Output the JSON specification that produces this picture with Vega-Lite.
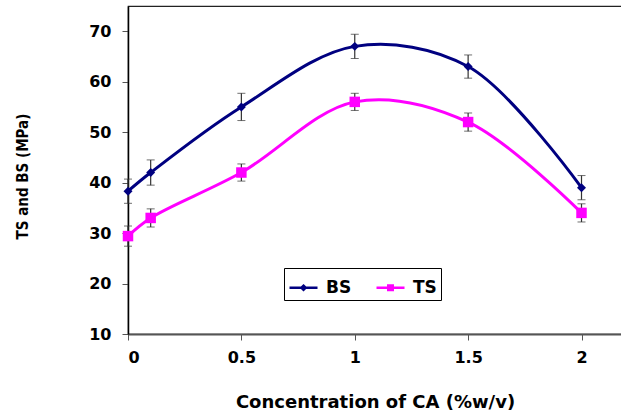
{
  "$schema": "https://vega.github.io/schema/vega-lite/v6.json",
  "autosize": {"type": "none"},
  "padding": {"left": 128, "top": 6, "right": 0, "bottom": 78},
  "width": 494,
  "height": 328,
  "background": "white",
  "config": {
    "view": {"stroke": "#222222", "strokeWidth": 1.2},
    "font": "DejaVu Sans"
  },
  "data": {
    "values": [
      {"conc": 0, "value": 38.3, "err": 2.4, "series": "BS"},
      {"conc": 0.1, "value": 42, "err": 2.5, "series": "BS"},
      {"conc": 0.5, "value": 55, "err": 2.7, "series": "BS"},
      {"conc": 1, "value": 67, "err": 2.4, "series": "BS"},
      {"conc": 1.5, "value": 63, "err": 2.3, "series": "BS"},
      {"conc": 2, "value": 39, "err": 2.4, "series": "BS"},
      {"conc": 0, "value": 29.4, "err": 2.0, "series": "TS"},
      {"conc": 0.1, "value": 33, "err": 1.8, "series": "TS"},
      {"conc": 0.5, "value": 42, "err": 1.7, "series": "TS"},
      {"conc": 1, "value": 56, "err": 1.7, "series": "TS"},
      {"conc": 1.5, "value": 52, "err": 1.8, "series": "TS"},
      {"conc": 2, "value": 34, "err": 1.8, "series": "TS"}
    ]
  },
  "encoding": {
    "x": {
      "field": "conc", "type": "quantitative",
      "scale": {"domain": [0, 2.1786], "nice": false, "zero": false},
      "axis": {
        "values": [0, 0.5, 1, 1.5, 2],
        "format": "~g",
        "title": "Concentration of CA (%w/v)",
        "titleFont": "DejaVu Sans", "titleFontSize": 18, "titleFontWeight": "bold",
        "titleColor": "black", "titleBaseline": "alphabetic", "titleY": 73,
        "labelFont": "DejaVu Sans", "labelFontSize": 16, "labelFontWeight": "bold",
        "labelColor": "black", "labelPadding": 9,
        "tickSize": 6, "tickColor": "#555555", "domainColor": "#555555", "domainWidth": 2,
        "grid": false
      }
    },
    "y": {
      "field": "value", "type": "quantitative",
      "scale": {"domain": [10, 75], "nice": false, "zero": false},
      "axis": {
        "values": [10, 20, 30, 40, 50, 60, 70],
        "title": "TS and BS (MPa)",
        "titleFont": "DejaVu Sans Condensed", "titleFontSize": 15, "titleFontWeight": "bold",
        "titleColor": "black", "titleX": -106, "titleY": 170, "titleBaseline": "middle",
        "labelFont": "DejaVu Sans", "labelFontSize": 16, "labelFontWeight": "bold",
        "labelColor": "black", "labelPadding": 11,
        "tickSize": 6, "tickColor": "#555555", "domainColor": "black", "domainWidth": 1.5,
        "grid": false
      }
    }
  },
  "layer": [
    {
      "mark": {"type": "errorbar", "ticks": {"size": 8, "color": "#333333", "strokeWidth": 1.2}, "rule": {"color": "#333333", "strokeWidth": 1.2}},
      "encoding": {
        "y": {"field": "value", "type": "quantitative"},
        "yError": {"field": "err"},
        "detail": {"field": "series"}
      }
    },
    {
      "mark": {"type": "line", "interpolate": "catmull-rom", "strokeWidth": 3},
      "encoding": {
        "color": {
          "field": "series", "type": "nominal",
          "scale": {"domain": ["BS", "TS"], "range": ["#000080", "#ff00ff"]},
          "legend": {
            "title": null, "orient": "none", "legendX": 156, "legendY": 262,
            "direction": "horizontal", "columnPadding": 19,
            "padding": 4, "strokeColor": "black", "fillColor": "white",
            "labelFont": "DejaVu Sans", "labelFontSize": 17, "labelFontWeight": "bold",
            "labelColor": "black", "labelOffset": 7, "symbolSize": 784,
            "symbolStrokeWidth": 2.5,
            "encode": {
              "symbols": {
                "update": {
                  "shape": {"signal": "datum.value == 'BS' ? 'M-1.55,0M-1,0H1M0,-0.15L0.15,0L0,0.15L-0.15,0Z' : 'M-1,0H1M-0.16,-0.16H0.16V0.16H-0.16Z'"},
                  "fill": {"scale": "color", "field": "value"},
                  "stroke": {"scale": "color", "field": "value"},
                  "strokeWidth": {"value": 2.5}
                }
              }
            }
          }
        }
      }
    },
    {
      "transform": [{"filter": "datum.series == 'BS'"}],
      "mark": {"type": "point", "filled": true, "opacity": 1, "shape": "diamond", "size": 80},
      "encoding": {
        "color": {"field": "series", "type": "nominal", "legend": null}
      }
    },
    {
      "transform": [{"filter": "datum.series == 'TS'"}],
      "mark": {"type": "point", "filled": true, "opacity": 1, "shape": "square", "size": 110},
      "encoding": {
        "color": {"field": "series", "type": "nominal", "legend": null}
      }
    }
  ]
}
